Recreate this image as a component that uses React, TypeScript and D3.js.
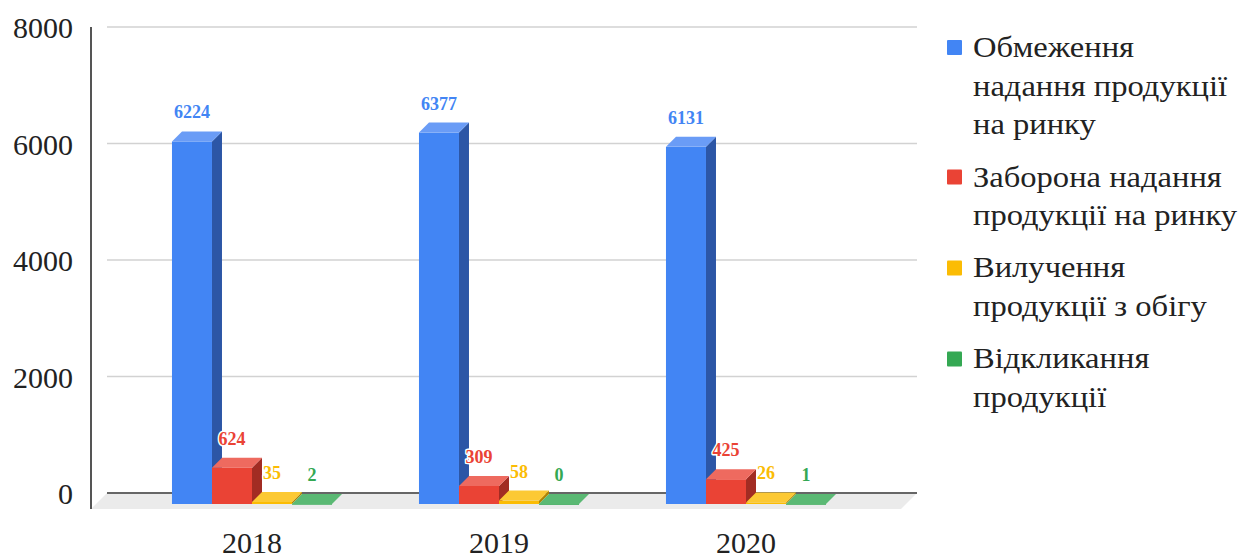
import React from 'react';
import * as d3 from 'd3';

// data
const years = ['2018', '2019', '2020'];
const seriesKeys = ['restrict', 'ban', 'withdraw', 'recall'];
const seriesLabels = [
  'Обмеження\nнадання продукції\nна ринку',
  'Заборона надання\nпродукції на ринку',
  'Вилучення\nпродукції з обігу',
  'Відкликання\nпродукції',
];
const restrictValues = [6224, 6377, 6131];
const banValues = [624, 309, 425];
const withdrawValues = [35, 58, 26];
const recallValues = [2, 0, 1];
const yTicks = [0, 2000, 4000, 6000, 8000];

const valuesByKey: Record<string, number[]> = {
  restrict: restrictValues,
  ban: banValues,
  withdraw: withdrawValues,
  recall: recallValues,
};

// front / top / side shades per series
const palette: Record<string, { front: string; top: string; side: string }> = {
  restrict: { front: '#4285f4', top: '#6a9cf6', side: '#2c56a6' },
  ban: { front: '#ea4335', top: '#ee6a5f', side: '#a22c23' },
  withdraw: { front: '#fbbc04', top: '#fcc934', side: '#b08402' },
  recall: { front: '#34a853', top: '#5bb974', side: '#23763a' },
};

const W = 1241;
const H = 558;
const DX = 10; // 3d depth of the bars
const FRONT = 11; // front face offset from back gridline plane
const serif = { fontFamily: "'Liberation Serif', 'Times New Roman', serif" };

const App = () => {
  const y = d3.scaleLinear().domain([0, 8000]).range([493, 27]);
  const x0 = d3.scaleBand<string>()
    .domain(years)
    .range([128.5, 869.5])
    .paddingInner(0.352)
    .paddingOuter(0.176);
  const x1 = d3.scaleBand<string>().domain(seriesKeys).range([0, x0.bandwidth()]);

  const gridLeft = 107;
  const gridRight = 917;
  const floorDepth = 16;
  const y0 = y(0);

  const pts = (arr: number[][]) => arr.map(p => p.join(',')).join(' ');

  // legend layout
  const lineH = 38.7;
  let legendY = 57;
  const legendItems = seriesLabels.map((label, i) => {
    const lines = label.split('\n');
    const item = { key: seriesKeys[i], lines, y: legendY };
    legendY += lines.length * lineH + 13.5;
    return item;
  });

  return (
    <div style={{ width: W, height: H }}>
      <style>{'body{margin:0}'}</style>
      <svg width={W} height={H} style={{ display: 'block', background: '#fff' }}>
        {/* floor */}
        <polygon
          points={pts([
            [gridLeft, y0],
            [gridRight, y0],
            [gridRight - floorDepth, y0 + floorDepth],
            [gridLeft - floorDepth, y0 + floorDepth],
          ])}
          fill="#ebebeb"
        />

        {/* gridlines + tick labels */}
        {yTicks.map(t => (
          <g key={t}>
            <line
              x1={gridLeft}
              x2={gridRight}
              y1={y(t)}
              y2={y(t)}
              stroke={t === 0 ? '#666' : '#d2d2d2'}
              strokeWidth={t === 0 ? 2 : 1.4}
            />
            <text x={73} y={y(t) + 11} textAnchor="end" fontSize={30} fill="#222" style={serif}>
              {t}
            </text>
          </g>
        ))}

        {/* bars */}
        {years.map((yr, yi) => (
          <g key={yr}>
            {seriesKeys.map(k => {
              const v = valuesByKey[k][yi];
              const x = (x0(yr) as number) + (x1(k) as number);
              const w = x1.bandwidth();
              const yf = y(v) + FRONT;
              const yb = y(v) + FRONT - DX;
              const baseF = y0 + FRONT;
              const baseB = y0 + FRONT - DX;
              const c = palette[k];
              return (
                <g key={k}>
                  <polygon
                    points={pts([[x + w, yf], [x + w + DX, yb], [x + w + DX, baseB], [x + w, baseF]])}
                    fill={c.side}
                  />
                  <rect x={x} y={yf} width={w} height={Math.max(baseF - yf, 0.8)} fill={c.front} />
                  <polygon
                    points={pts([[x, yf], [x + w, yf], [x + w + DX, yb], [x + DX, yb]])}
                    fill={c.top}
                  />
                </g>
              );
            })}
            {seriesKeys.map(k => {
              const v = valuesByKey[k][yi];
              const x = (x0(yr) as number) + (x1(k) as number);
              return (
                <text
                  key={k}
                  x={x + x1.bandwidth() / 2}
                  y={y(v) - 12}
                  textAnchor="middle"
                  fontSize={18}
                  fontWeight="bold"
                  fill={palette[k].front}
                  stroke="#fff"
                  strokeWidth={3}
                  strokeLinejoin="round"
                  style={{ ...serif, paintOrder: 'stroke' }}
                >
                  {v}
                </text>
              );
            })}
            <text
              x={(x0(yr) as number) + x0.bandwidth() / 2}
              y={553}
              textAnchor="middle"
              fontSize={30}
              fill="#222"
              style={serif}
            >
              {yr}
            </text>
          </g>
        ))}

        {/* y axis line */}
        <line x1={91} x2={91} y1={27} y2={y0 + floorDepth} stroke="#555" strokeWidth={2} />

        {/* legend */}
        {legendItems.map(item => (
          <g key={item.key}>
            <rect x={947} y={item.y - 17} width={15} height={15} rx={1} fill={palette[item.key].front} />
            <g transform={`translate(973,0) scale(1.085,1)`}>
              {item.lines.map((ln, li) => (
                <text key={li} x={0} y={item.y + li * lineH} fontSize={30} fill="#222" style={serif}>
                  {ln}
                </text>
              ))}
            </g>
          </g>
        ))}
      </svg>
    </div>
  );
};

export default App;
